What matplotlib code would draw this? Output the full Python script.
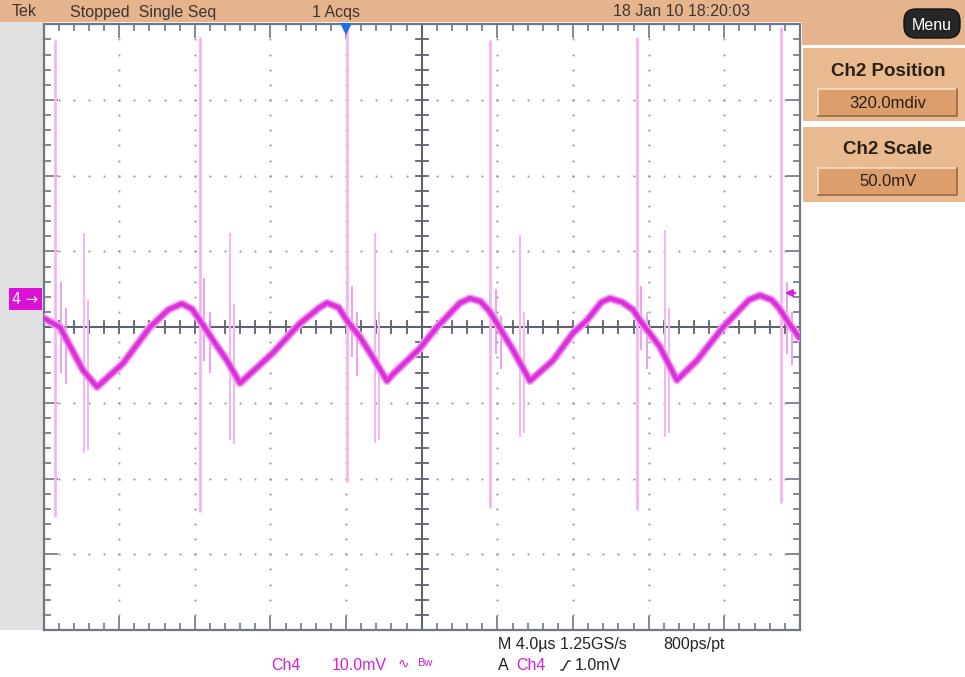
import numpy as np
import matplotlib
matplotlib.use("Agg")
import matplotlib.pyplot as plt
from matplotlib.transforms import Affine2D
from matplotlib.patches import Rectangle, FancyBboxPatch

W, H = 965, 677

time_per_div = 4.0     # us / div
volt_per_div = 10.0    # mV / div
n_xdiv, n_ydiv = 10, 8

# main Ch4 trace: time (us) and voltage (mV)
t_wave = [-20.0, -19.13, -17.91, -17.17, -15.80, -14.37, -13.40, -12.68, -12.15, -11.73,
          -11.04, -10.30, -9.61, -7.87, -6.44, -5.40, -5.01, -4.40, -3.96, -3.27, -2.58,
          -1.84, -1.52, -0.10, 0.80, 2.02, 2.55, 3.10, 3.55, 3.98, 4.82, 5.72,
          6.94, 7.99, 8.73, 9.50, 9.95, 10.60, 11.17, 11.54, 12.59, 13.49, 14.55, 15.93,
          17.30, 17.88, 18.50, 18.90, 19.31, 19.94]
v_wave = [1.2, 0.0, -5.7, -7.9, -4.8, 0.0, 2.3, 3.1, 2.4, 0.9,
          -1.7, -4.4, -7.4, -3.4, 0.5, 2.6, 3.2, 2.6, 0.9, -1.3, -4.0,
          -7.1, -6.2, -2.8, 0.0, 3.2, 3.8, 3.4, 2.2, 0.5, -3.0, -7.1,
          -4.4, -0.8, 0.9, 3.3, 3.8, 3.3, 2.3, 0.9, -2.6, -7.0, -4.4, 0.0,
          3.6, 4.2, 3.6, 2.5, 0.9, -1.3]

# switching spikes (tall) : time, top, bottom (mV)
spike_t = [-19.39, -11.73, -3.96, 3.61, 11.38, 19.00]
spike_hi = [37.9, 38.3, 40.0, 37.9, 38.3, 39.6]
spike_lo = [-25.1, -24.4, -20.5, -23.9, -24.2, -23.2]

# secondary ringing spikes
ring_t = [-17.85, -17.64, -10.14, -9.93, -2.47, -2.26, 5.20, 5.41, 12.87, 13.05]
ring_hi = [12.4, 3.6, 12.4, 3.0, 12.5, 2.0, 12.2, 2.0, 12.8, 2.5]
ring_lo = [-16.6, -16.2, -14.9, -15.4, -15.3, -14.9, -14.5, -14.0, -14.5, -14.0]

# short ringing bursts just after each tall spike
burst_t = [-19.1, -18.8, -11.5, -11.2, -3.7, -3.4, 3.9, 4.2, 11.6, 11.9, 19.3, 19.6]
burst_hi = [6.0, 2.5, 6.5, 2.0, 5.5, 2.0, 5.0, 1.5, 5.5, 2.0, 6.0, 2.0]
burst_lo = [-6.0, -7.5, -4.5, -6.0, -4.0, -6.5, -3.5, -5.5, -3.0, -5.5, -3.5, -5.0]

trigger_time = -4.0    # us (trigger marker at top)
trigger_level = 4.5    # mV (arrow at right)
ch4_offset = 3.7       # mV (channel marker at left)

header_texts = ["Tek", "Stopped  Single Seq", "1 Acqs", "18 Jan 10 18:20:03"]
header_x = [12, 70, 312, 613]
panel_titles = ["Ch2 Position", "Ch2 Scale"]
panel_values = ["320.0mdiv", "50.0mV"]

# ---------------- figure ----------------
plt.rcParams["font.family"] = ["Liberation Sans", "DejaVu Sans"]
fig = plt.figure(figsize=(W / 100, H / 100), dpi=100)
fig.patch.set_facecolor("white")
px = Affine2D().scale(1.0 / W, -1.0 / H).translate(0, 1) + fig.transFigure

TAN = "#e6b48c"
BOX = "#e9b98f"
VAL = "#db9e6c"
MAG = "#d81ed8"
DARK = "#3c3530"

# top bar
fig.patches.append(Rectangle((0, 0), W, 22, transform=px, facecolor=TAN, edgecolor="none"))
# right panel top (tan)
fig.patches.append(Rectangle((802, 0), W - 802, 45, transform=px, facecolor=TAN, edgecolor="none"))
# left gray strip
fig.patches.append(Rectangle((0, 22), 43, 608, transform=px, facecolor="#e1e1e1", edgecolor="none"))

for txt, x in zip(header_texts, header_x):
    fig.text(x, 12, txt, transform=px, fontsize=11.5, color=DARK, va="center", ha="left")

# Menu button
fig.patches.append(FancyBboxPatch((904, 9), 56, 29, boxstyle="round,pad=0,rounding_size=12",
                                  transform=px, facecolor="#262626", edgecolor="#111111", lw=1.0))
fig.text(932, 25, "Menu", transform=px, fontsize=11.5, color="white", va="center", ha="center")

# side panels
panel_y = [(48, 121), (127, 202)]
for (y0, y1), title, val in zip(panel_y, panel_titles, panel_values):
    fig.patches.append(Rectangle((803, y0), W - 803, y1 - y0, transform=px,
                                 facecolor=BOX, edgecolor="none"))
    fig.text(888, y0 + 23, title, transform=px, fontsize=13.5, fontweight="bold",
             color="#2a2018", va="center", ha="center")
    vy0 = y0 + 41
    fig.patches.append(Rectangle((818, vy0), 139, 27, transform=px,
                                 facecolor=VAL, edgecolor="none"))
    fig.lines.append(plt.Line2D([818, 818, 957], [vy0 + 27, vy0, vy0], transform=px,
                                color="#f6dcc4", lw=1.2))
    fig.lines.append(plt.Line2D([818, 957, 957], [vy0 + 27, vy0 + 27, vy0], transform=px,
                                color="#9c6840", lw=1.2))
    fig.text(888, vy0 + 14, val, transform=px, fontsize=12, color="#2a2018",
             va="center", ha="center")

# ---------------- graticule axes ----------------
L, T, R, B = 43.5, 24.3, 800.0, 630.0
ax = fig.add_axes([L / W, 1 - B / H, (R - L) / W, (B - T) / H])
xmax = time_per_div * n_xdiv / 2
ymax = volt_per_div * n_ydiv / 2
ax.set_xlim(-xmax, xmax)
ax.set_ylim(-ymax, ymax)
ax.set_facecolor("white")
ax.set_zorder(3)

grid_col = "#6f7684"
for s in ax.spines.values():
    s.set_color(grid_col)
    s.set_linewidth(1.6)

xmaj = np.arange(-xmax, xmax + 1e-9, time_per_div)
ymaj = np.arange(-ymax, ymax + 1e-9, volt_per_div)
xmin_ = np.arange(-xmax, xmax + 1e-9, time_per_div / 5)
ymin_ = np.arange(-ymax, ymax + 1e-9, volt_per_div / 5)
ax.set_xticks(xmaj)
ax.set_yticks(ymaj)
ax.set_xticks(xmin_, minor=True)
ax.set_yticks(ymin_, minor=True)
ax.tick_params(which="both", direction="in", top=True, right=True, bottom=True, left=True,
               labelbottom=False, labelleft=False, color=grid_col, width=1.2)
ax.tick_params(which="major", length=10)
ax.tick_params(which="minor", length=5)

# dotted grid
for xv in xmaj[1:-1]:
    if abs(xv) < 1e-9:
        continue
    ax.plot(np.full_like(ymin_[1:-1], xv), ymin_[1:-1], ls="none", marker="s",
            ms=1.3, color="#8a8f99", mew=0, zorder=1)
for yv in ymaj[1:-1]:
    if abs(yv) < 1e-9:
        continue
    ax.plot(xmin_[1:-1], np.full_like(xmin_[1:-1], yv), ls="none", marker="s",
            ms=1.3, color="#8a8f99", mew=0, zorder=1)

# center cross with ticks
ax.axhline(0, color="#5c6270", lw=1.5, zorder=2)
ax.axvline(0, color="#5c6270", lw=1.5, zorder=2)
hx = 6 * time_per_div / 75.65
hy = 6 * volt_per_div / 75.7
for xv in xmin_[1:-1]:
    ax.plot([xv, xv], [-hy, hy], color="#5c6270", lw=1.3, zorder=2)
for yv in ymin_[1:-1]:
    ax.plot([-hx, hx], [yv, yv], color="#5c6270", lw=1.3, zorder=2)

# spikes
SPK = "#f4b6f2"
ax.vlines(spike_t, spike_lo, spike_hi, color=SPK, lw=2.0, zorder=3)
ax.vlines(ring_t, ring_lo, ring_hi, color=SPK, lw=1.4, zorder=3)
ax.vlines(burst_t, burst_lo, burst_hi, color="#ee90ee", lw=1.2, zorder=3)

# main trace: light halo + noisy band + darker core
ax.plot(t_wave, v_wave, color="#f3a6f3", lw=6.0, solid_joinstyle="round", zorder=4)
ax.plot(t_wave, v_wave, color="#e23ee2", lw=3.8, solid_joinstyle="round", zorder=4)
ax.plot(t_wave, v_wave, color="#c41cc4", lw=1.0, alpha=0.6, zorder=5)

# trigger marker (top) and trigger level arrow (right)
ax.plot([trigger_time], [ymax - 0.6], marker="v", ms=9, color="#1f6fe0", mew=0,
        clip_on=False, zorder=6)
ax.annotate("", xy=(xmax - 0.95, trigger_level), xytext=(xmax - 0.1, trigger_level),
            arrowprops=dict(arrowstyle="-|>", color=MAG, lw=1.6, mutation_scale=10), zorder=6)

# channel marker at left
ax.annotate("4 \u2192", xy=(-xmax, ch4_offset), xycoords="data", xytext=(-31, 0),
            textcoords="offset pixels", ha="left", va="center", color="white", fontsize=10.5,
            bbox=dict(boxstyle="square,pad=0.25", fc="#dd10d8", ec="none"),
            annotation_clip=False, family=["DejaVu Sans"], zorder=7)

# ---------------- bottom readouts ----------------
BLK = "#222222"
fig.text(498, 645, "M 4.0\u00b5s 1.25GS/s", transform=px, fontsize=11.5, color=BLK, va="center")
fig.text(663, 645, "800ps/pt", transform=px, fontsize=11.5, color=BLK, va="center")
fig.text(271, 665, "Ch4", transform=px, fontsize=11.5, color=MAG, va="center")
fig.text(332, 665, "10.0mV", transform=px, fontsize=11.5, color=MAG, va="center")
fig.text(398, 664, "\u223f", transform=px, fontsize=10, color=MAG, va="center",
         family=["DejaVu Sans"])
fig.text(417, 663, "Bw", transform=px, fontsize=8, color=MAG, va="center")
fig.text(498, 665, "A", transform=px, fontsize=11.5, color=BLK, va="center")
fig.text(516, 665, "Ch4", transform=px, fontsize=11.5, color=MAG, va="center")
fig.lines.append(plt.Line2D([561, 563, 568, 570], [670, 670, 661, 661], transform=px,
                            color=BLK, lw=1.0))
fig.text(575, 665, "1.0mV", transform=px, fontsize=11.5, color=BLK, va="center")

fig.savefig("out.png", dpi=100, facecolor="white")
